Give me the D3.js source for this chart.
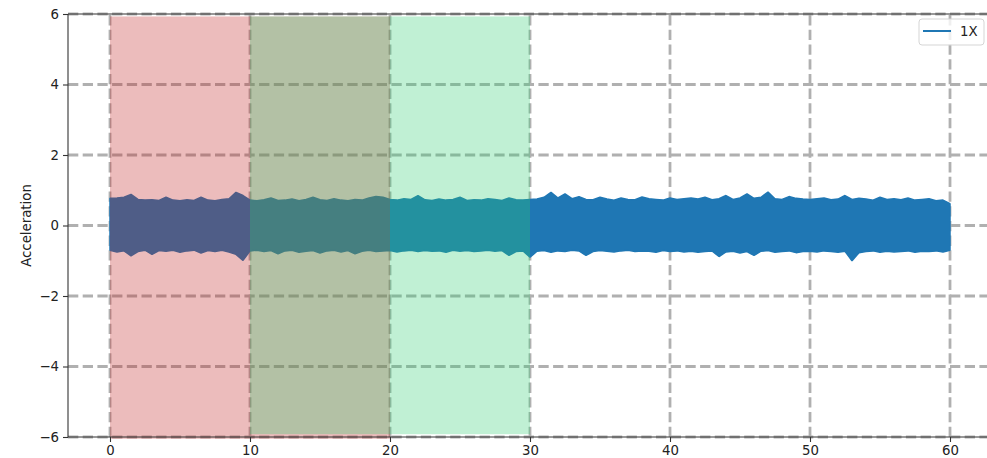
<!DOCTYPE html>
<html>
<head>
<meta charset="utf-8">
<script src="https://cdn.jsdelivr.net/npm/d3@7"></script>
<style>
  body { margin: 0; background: #fff; }
  svg { display: block; font-family: "DejaVu Sans", sans-serif; }
</style>
</head>
<body>
<svg id="chart" width="987" height="458"></svg>
<script>
// signal envelope, sampled every 0.5 s from 0 to 60
var sampleStep = 0.5;
var upperEnvelope = [
  0.77,0.78,0.80,0.88,0.74,0.72,0.73,0.71,0.80,0.72,0.70,0.73,0.71,0.80,0.72,0.70,0.74,0.76,0.94,0.85,0.72,
  0.70,0.73,0.78,0.71,0.72,0.75,0.70,0.74,0.80,0.73,0.71,0.76,0.72,0.70,0.74,0.72,0.78,0.82,0.80,0.74,
  0.72,0.76,0.74,0.85,0.73,0.71,0.75,0.72,0.74,0.80,0.71,0.73,0.72,0.76,0.74,0.71,0.78,0.73,0.72,0.74,
  0.75,0.80,0.94,0.78,0.90,0.76,0.82,0.74,0.73,0.80,0.75,0.72,0.78,0.74,0.73,0.81,0.76,0.74,0.72,0.78,
  0.74,0.76,0.78,0.75,0.80,0.73,0.76,0.85,0.74,0.78,0.90,0.77,0.80,0.95,0.76,0.74,0.82,0.77,0.75,0.74,
  0.76,0.78,0.73,0.75,0.85,0.74,0.77,0.75,0.72,0.80,0.74,0.76,0.73,0.78,0.72,0.74,0.76,0.70,0.72,0.62
];
var lowerEnvelope = [
  -0.70,-0.75,-0.72,-0.86,-0.74,-0.70,-0.82,-0.71,-0.73,-0.70,-0.76,-0.72,-0.70,-0.78,-0.71,-0.74,-0.70,-0.75,-0.82,-0.99,-0.72,
  -0.70,-0.74,-0.71,-0.80,-0.72,-0.70,-0.76,-0.73,-0.71,-0.78,-0.72,-0.70,-0.75,-0.71,-0.80,-0.73,-0.70,-0.74,-0.72,-0.71,
  -0.75,-0.72,-0.70,-0.74,-0.71,-0.73,-0.72,-0.76,-0.70,-0.73,-0.71,-0.74,-0.72,-0.70,-0.73,-0.71,-0.85,-0.74,-0.72,-0.90,
  -0.73,-0.71,-0.76,-0.72,-0.74,-0.70,-0.72,-0.85,-0.74,-0.71,-0.73,-0.75,-0.72,-0.70,-0.74,-0.72,-0.73,-0.76,-0.71,-0.74,
  -0.72,-0.75,-0.73,-0.76,-0.74,-0.72,-0.88,-0.75,-0.73,-0.78,-0.74,-0.85,-0.73,-0.71,-0.76,-0.74,-0.72,-0.77,-0.74,-0.73,
  -0.75,-0.72,-0.74,-0.76,-0.73,-1.00,-0.77,-0.74,-0.72,-0.76,-0.73,-0.75,-0.74,-0.72,-0.76,-0.73,-0.74,-0.72,-0.75,-0.70
];

// shaded spans: start, end, bottom, top, colour
var spanStarts = [0, 10];
var spanEnds = [20, 30];
var spanBottoms = [-6.05, -5.92];
var spanTops = [5.93, 5.93];
var spanColors = ["rgb(192,32,32)", "#2ecc71"];

var xTicks = [0, 10, 20, 30, 40, 50, 60];
var yTicks = [-6, -4, -2, 0, 2, 4, 6];
var seriesName = "1X";
var yLabel = "Acceleration";

var fontSize = "13.3px";
var svg = d3.select("#chart");

var x = d3.scaleLinear().domain([-3, 63]).range([68, 992]);
var y = d3.scaleLinear().domain([-6, 6]).range([437, 14]);

var samples = upperEnvelope.map(function(u, i) {
  return {t: i * sampleStep, hi: u, lo: lowerEnvelope[i]};
});

// grid (under everything)
var grid = svg.append("g").attr("stroke", "#b0b0b0").attr("stroke-width", 2.78)
    .attr("stroke-dasharray", "10.3,4.4");
grid.selectAll("line.gx").data(xTicks).enter().append("line")
    .attr("x1", d => x(d)).attr("x2", d => x(d))
    .attr("y1", y(-6)).attr("y2", y(6));
grid.selectAll("line.gy").data(yTicks).enter().append("line")
    .attr("x1", x(-3)).attr("x2", x(63))
    .attr("y1", d => y(d)).attr("y2", d => y(d));

// signal band
var band = d3.area()
    .x(d => x(d.t))
    .y0(d => y(d.lo))
    .y1(d => y(d.hi));
svg.append("path")
    .datum(samples)
    .attr("d", band)
    .attr("fill", "#1f77b4")
    .attr("stroke", "#1f77b4")
    .attr("stroke-width", 1.5)
    .attr("stroke-linejoin", "bevel");

// spans on top of the signal
svg.selectAll("rect.span").data(spanStarts).enter().append("rect")
    .attr("x", (d, i) => x(d))
    .attr("width", (d, i) => x(spanEnds[i]) - x(d))
    .attr("y", (d, i) => y(spanTops[i]))
    .attr("height", (d, i) => y(spanBottoms[i]) - y(spanTops[i]))
    .attr("fill", (d, i) => spanColors[i])
    .attr("fill-opacity", 0.3);

// axes
var xAxis = svg.append("g")
    .attr("transform", "translate(0," + y(-6) + ")")
    .call(d3.axisBottom(x).tickValues(xTicks).tickSize(5).tickPadding(4));
var yAxis = svg.append("g")
    .attr("transform", "translate(" + x(-3) + ",0)")
    .call(d3.axisLeft(y).tickValues(yTicks).tickSize(5).tickPadding(4)
      .tickFormat(d => d < 0 ? "\u2212" + Math.abs(d) : d));
[xAxis, yAxis].forEach(function(a) {
  a.select(".domain").remove();
  a.selectAll("line").attr("stroke", "#333").attr("stroke-width", 1.1);
  a.selectAll("text").attr("fill", "#222").attr("font-size", fontSize)
    .attr("font-family", "DejaVu Sans, sans-serif");
});

// spines
svg.append("line").attr("x1", x(-3)).attr("x2", x(63)).attr("y1", y(6)).attr("y2", y(6))
    .attr("stroke", "#333").attr("stroke-width", 1.1);
svg.append("line").attr("x1", x(-3)).attr("x2", x(63)).attr("y1", y(-6)).attr("y2", y(-6))
    .attr("stroke", "#333").attr("stroke-width", 1.1);
svg.append("line").attr("x1", x(-3)).attr("x2", x(-3)).attr("y1", y(6)).attr("y2", y(-6))
    .attr("stroke", "#333").attr("stroke-width", 1.1);

// y label
svg.append("text")
    .attr("transform", "translate(31," + y(0) + ") rotate(-90)")
    .attr("text-anchor", "middle")
    .attr("font-size", fontSize)
    .attr("fill", "#222")
    .text(yLabel);

// legend
var legend = svg.append("g").attr("transform", "translate(919,19)");
legend.append("rect")
    .attr("width", 65).attr("height", 26).attr("rx", 3)
    .attr("fill", "#fff").attr("fill-opacity", 0.8)
    .attr("stroke", "#d5d5d5");
legend.append("line")
    .attr("x1", 4).attr("x2", 32).attr("y1", 12).attr("y2", 12)
    .attr("stroke", "#1f77b4").attr("stroke-width", 2);
legend.append("text")
    .attr("x", 41).attr("y", 17)
    .attr("font-size", fontSize).attr("fill", "#222")
    .text(seriesName);
</script>
</body>
</html>
